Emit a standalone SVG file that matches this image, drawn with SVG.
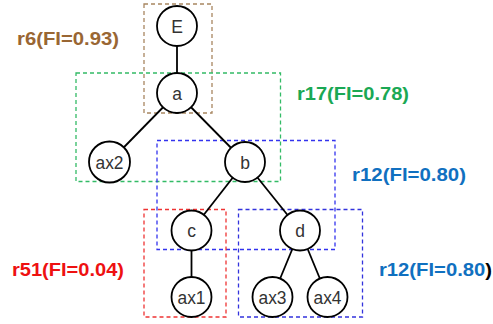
<svg xmlns="http://www.w3.org/2000/svg" width="493" height="324" viewBox="0 0 493 324">
<style>
.box{fill:none;stroke-width:1.3;stroke-dasharray:4,3}
.n circle{fill:#fff;stroke:#000;stroke-width:1.8}
.n text{font-family:"Liberation Sans",Arial,sans-serif;font-size:17.5px;fill:#333;text-anchor:middle}
.lbl{font-family:"Liberation Sans",Arial,sans-serif;font-size:18px;font-weight:bold}
#edges line{stroke:#000;stroke-width:1.8}
</style>
<rect width="493" height="324" fill="#fff"/>
<g id="regions">
<rect class="box" x="144" y="4" width="68" height="109" stroke="#a88660"/>
<rect class="box" x="76" y="73" width="204.5" height="108.5" stroke="#33bb66"/>
<rect class="box" x="157" y="140.5" width="178" height="109" stroke="#3333ee"/>
<rect class="box" x="144" y="209.5" width="82" height="107.5" stroke="#ee3333"/>
<rect class="box" x="238.5" y="209.5" width="124" height="107.5" stroke="#3333dd"/>
</g>
<g id="edges">
<line x1="177" y1="26" x2="177" y2="93"/>
<line x1="177" y1="93" x2="109.5" y2="162"/>
<line x1="177" y1="93" x2="245" y2="162"/>
<line x1="245" y1="162" x2="191.5" y2="230.5"/>
<line x1="245" y1="162" x2="300" y2="230.5"/>
<line x1="191.5" y1="230.5" x2="191.5" y2="297"/>
<line x1="300" y1="230.5" x2="272.5" y2="297"/>
<line x1="300" y1="230.5" x2="327.5" y2="297"/>
</g>
<g id="E" class="n"><circle cx="177" cy="26" r="20"/><text x="177" y="32.5">E</text></g>
<g id="a" class="n"><circle cx="177" cy="93" r="20"/><text x="177" y="99.5">a</text></g>
<g id="ax2" class="n"><circle cx="109.5" cy="162" r="20.5"/><text x="109.5" y="168.5" textLength="28" lengthAdjust="spacingAndGlyphs">ax2</text></g>
<g id="b" class="n"><circle cx="245" cy="162" r="20"/><text x="245" y="168.5">b</text></g>
<g id="c" class="n"><circle cx="191.5" cy="230.5" r="20"/><text x="191.5" y="237">c</text></g>
<g id="d" class="n"><circle cx="300" cy="230.5" r="20"/><text x="300" y="237">d</text></g>
<g id="ax1" class="n"><circle cx="191.5" cy="297" r="20"/><text x="191.5" y="303.5" textLength="28" lengthAdjust="spacingAndGlyphs">ax1</text></g>
<g id="ax3" class="n"><circle cx="272.5" cy="297" r="20"/><text x="272.5" y="303.5" textLength="28" lengthAdjust="spacingAndGlyphs">ax3</text></g>
<g id="ax4" class="n"><circle cx="327.5" cy="297" r="20"/><text x="327.5" y="303.5" textLength="28" lengthAdjust="spacingAndGlyphs">ax4</text></g>
<g id="labels">
<text class="lbl" x="17" y="45" fill="#996633" textLength="102" lengthAdjust="spacingAndGlyphs">r6(FI=0.93)</text>
<text class="lbl" x="297" y="100" fill="#1aa854" textLength="112" lengthAdjust="spacingAndGlyphs">r17(FI=0.78)</text>
<text class="lbl" x="352" y="180.5" fill="#1070c0" textLength="114" lengthAdjust="spacingAndGlyphs">r12(FI=0.80)</text>
<text class="lbl" x="12" y="276" fill="#ee1111" textLength="112" lengthAdjust="spacingAndGlyphs">r51(FI=0.04)</text>
<text class="lbl" x="379" y="276" fill="#1070c0" textLength="113" lengthAdjust="spacingAndGlyphs">r12(FI=0.80<tspan fill="#000">)</tspan></text>
</g>
</svg>
